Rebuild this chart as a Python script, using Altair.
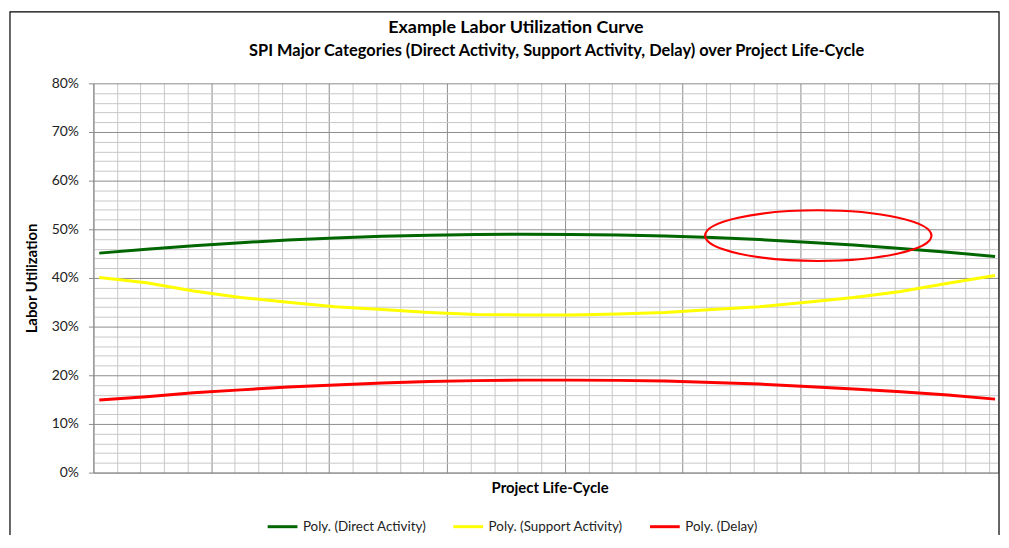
import altair as alt
import pandas as pd

# ---- data ----
periods = [0.5, 4.5, 8.5, 12.5, 16.5, 20.5, 24.5, 28.5, 32.5, 36.5,
           40.5, 44.5, 48.5, 52.5, 56.5, 60.5, 64.5, 68.5, 72.5, 76.5]
direct = [45.1, 45.9, 46.6, 47.25, 47.8, 48.2, 48.55, 48.8, 48.95, 49.0,
          48.95, 48.85, 48.6, 48.3, 47.9, 47.35, 46.75, 46.05, 45.3, 44.4]
support = [40.1, 39.0, 37.3, 36.0, 35.0, 34.1, 33.5, 32.9, 32.5, 32.4,
           32.4, 32.6, 32.9, 33.5, 34.1, 35.0, 36.0, 37.2, 38.9, 40.5]
delay = [14.9, 15.6, 16.4, 17.0, 17.6, 18.0, 18.4, 18.7, 18.9, 19.0,
         19.0, 18.95, 18.8, 18.5, 18.2, 17.7, 17.2, 16.6, 15.95, 15.1]

series_names = ["Poly. (Direct Activity)", "Poly. (Support Activity)", "Poly. (Delay)"]
series_colors = ["#006600", "#ffff00", "#ff0000"]

title_lines = ["Example Labor Utilization Curve",
               "SPI Major Categories (Direct Activity, Support Activity, Delay) over Project Life-Cycle"]

# highlight ellipse (center in data units)
annot_x = [61.5]
annot_y = [48.7]

X_MAX = 76.75
y_ticks = list(range(0, 81, 2))
x_ticks = list(range(0, 77, 2)) + [X_MAX]

rows = []
for name, vals in zip(series_names, [direct, support, delay]):
    for p, v in zip(periods, vals):
        rows.append({"period": p, "value": v, "series": name})
df = pd.DataFrame(rows)
ann = pd.DataFrame({"period": annot_x, "value": annot_y})

FONT = "Lato"
MAJOR = "#8c8c8c"
MINOR = "#c8c8c8"
PW, PH = 911, 392

x_scale = alt.Scale(domain=[0, X_MAX], nice=False, zero=False)
y_scale = alt.Scale(domain=[0, 80], nice=False)

x_axis = alt.Axis(
    values=x_ticks, labels=False, ticks=False, grid=True,
    gridColor={"condition": {"test": "datum.value % 10 === 0", "value": MAJOR}, "value": MINOR},
    gridWidth=1, domainColor=MAJOR, domainWidth=1,
    title="Project Life-Cycle", titleFont=FONT, titleFontSize=15, titleFontWeight="bold",
    titleColor="#000000", titleX=PW / 2 + 4, titleY=15, titleBaseline="middle", titleAlign="center",
)
y_axis = alt.Axis(
    values=y_ticks, grid=True,
    gridColor={"condition": {"test": "datum.value % 10 === 0", "value": MAJOR}, "value": MINOR},
    gridWidth=1, domainColor=MAJOR, domainWidth=1,
    tickColor=MAJOR, tickSize=5,
    tickOpacity={"condition": {"test": "datum.value % 10 === 0", "value": 1}, "value": 0},
    labelExpr="datum.value % 10 === 0 ? datum.value + '%' : ''",
    labelOverlap=False, labelFont=FONT, labelFontSize=14, labelColor="#222222", labelPadding=10,
    title="Labor Utilization", titleFont=FONT, titleFontSize=15, titleFontWeight="bold",
    titleColor="#000000", titleAngle=-90, titleX=-62, titleY=PH / 2,
    titleAlign="center", titleBaseline="middle",
)

lines = alt.Chart(df).mark_line(strokeWidth=3, strokeCap="butt").encode(
    x=alt.X("period:Q", scale=x_scale, axis=x_axis),
    y=alt.Y("value:Q", scale=y_scale, axis=y_axis),
    color=alt.Color(
        "series:N",
        scale=alt.Scale(domain=series_names, range=series_colors),
        sort=series_names,
        legend=alt.Legend(
            title=None, orient="none", legendX=174, legendY=430,
            direction="horizontal", symbolType="stroke", symbolStrokeWidth=3,
            symbolSize=900, labelFont=FONT, labelFontSize=13.5, labelColor="#222222",
            labelOffset=4, columnPadding=20, padding=0, labelLimit=300,
        ),
    ),
    order=alt.Order("period:Q"),
)

ellipse = alt.Chart(ann).mark_point(
    shape="M -1 0 A 1 0.224 0 1 0 1 0 A 1 0.224 0 1 0 -1 0",
    filled=False, stroke="#ff0000", strokeWidth=2.2, opacity=1,
).encode(
    x=alt.X("period:Q", scale=x_scale, axis=x_axis),
    y=alt.Y("value:Q", scale=y_scale, axis=y_axis),
    size=alt.value(228 * 228),
)

frame = alt.Chart(alt.Data(values=[{}])).mark_rect(
    fill=None, stroke="#000000", strokeWidth=1.2
).encode(
    x=alt.value(-84), x2=alt.value(PW + 1), y=alt.value(-72), y2=alt.value(PH + 200)
)

title1 = alt.Chart(alt.Data(values=[{}])).mark_text(
    font=FONT, fontSize=18, fontWeight="bold", color="#000000",
    align="center", baseline="middle",
).encode(x=alt.value(PW / 2 - 30), y=alt.value(-56), text=alt.value(title_lines[0]))

title2 = alt.Chart(alt.Data(values=[{}])).mark_text(
    font=FONT, fontSize=16.5, fontWeight="bold", color="#000000",
    align="center", baseline="middle",
).encode(x=alt.value(PW / 2 + 11), y=alt.value(-33), text=alt.value(title_lines[1]))

chart = alt.layer(lines, ellipse, frame, title1, title2).properties(
    width=PW, height=PH,
    autosize=alt.AutoSizeParams(type="none"),
    padding={"left": 86, "top": 74, "right": 3, "bottom": 61},
).configure_view(stroke=None)

chart.save("out.html", embed_options={"renderer": "svg", "actions": False})
